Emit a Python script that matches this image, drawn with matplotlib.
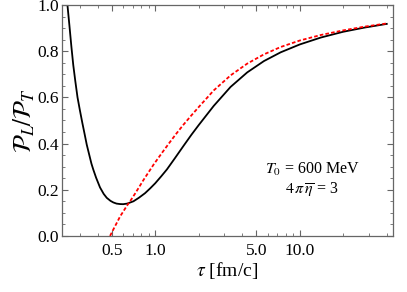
import numpy as np
import matplotlib
matplotlib.use('Agg')
import matplotlib.pyplot as plt
from matplotlib.ticker import FixedLocator, NullFormatter, FixedFormatter

plt.rcParams['font.family'] = ['Liberation Serif', 'DejaVu Serif']
plt.rcParams['mathtext.fontset'] = 'stix'

# ------------------------------------------------------------
# Data (tau in fm/c, ratio P_L/P_T)
# ------------------------------------------------------------
# black solid: full solution
tau_full = [0.247, 0.255, 0.263, 0.271, 0.28, 0.29, 0.301, 0.313, 0.325, 0.336,
            0.35, 0.362, 0.373, 0.39, 0.415, 0.44, 0.462, 0.49, 0.513, 0.54,
            0.571, 0.60, 0.64, 0.707, 0.77, 0.85, 0.923, 1.0, 1.1, 1.205,
            1.37, 1.57, 1.78, 2.0, 2.54, 3.32, 4.33, 5.65, 7.38, 10.0,
            14.0, 20.0, 28.0, 40.0]
ratio_full = [1.0, 0.91, 0.82, 0.74, 0.67, 0.60, 0.545, 0.49, 0.44, 0.395,
              0.35, 0.313, 0.287, 0.252, 0.210, 0.182, 0.165, 0.152, 0.145, 0.140,
              0.138, 0.1375, 0.140, 0.150, 0.165, 0.185, 0.206, 0.228, 0.258, 0.288,
              0.337, 0.390, 0.438, 0.480, 0.563, 0.645, 0.708, 0.757, 0.795, 0.829,
              0.859, 0.884, 0.902, 0.918]

# red dashed: approximation
tau_approx = [0.487, 0.52, 0.55, 0.571, 0.60, 0.636, 0.670, 0.72, 0.775, 0.829,
              0.90, 0.97, 1.03, 1.13, 1.27, 1.4, 1.57, 1.78, 2.0, 2.54,
              3.32, 4.33, 5.65, 7.38, 10.0, 14.0, 20.0, 28.0, 40.0]
ratio_approx = [0.0, 0.035, 0.064, 0.084, 0.105, 0.130, 0.150, 0.180, 0.212, 0.242,
                0.276, 0.307, 0.330, 0.365, 0.408, 0.443, 0.482, 0.522, 0.558, 0.630,
                0.695, 0.746, 0.786, 0.818, 0.846, 0.870, 0.890, 0.906, 0.920]

major_x = [0.5, 1.0, 5.0, 10.0]
major_x_labels = ['0.5', '1.0', '5.0', '10.0']
minor_x = [0.3, 0.4, 0.6, 0.7, 0.8, 0.9, 2, 3, 4, 6, 7, 8, 9, 20, 30, 40]

# ------------------------------------------------------------
# Plot
# ------------------------------------------------------------
fig = plt.figure(figsize=(4.07, 2.92), dpi=100)
ax = fig.add_axes([0.152, 0.192, 0.814, 0.791])

ax.plot(tau_full, ratio_full, color='black', lw=1.3)
ax.plot(tau_approx, ratio_approx, color='red', lw=1.3, dashes=(2.0, 1.2))

ax.set_xscale('log')
ax.set_xlim(0.226, 44.3)
ax.set_ylim(0.0, 1.0)

ax.xaxis.set_major_locator(FixedLocator(major_x))
ax.xaxis.set_major_formatter(FixedFormatter(major_x_labels))
ax.xaxis.set_minor_locator(FixedLocator(minor_x))
ax.xaxis.set_minor_formatter(NullFormatter())
ax.set_yticks([0.0, 0.2, 0.4, 0.6, 0.8, 1.0])
ax.set_yticklabels(['0.0', '0.2', '0.4', '0.6', '0.8', '1.0'])
ax.set_yticks(np.arange(0, 1.001, 0.05), minor=True)

for s in ax.spines.values():
    s.set_color('#666666')
    s.set_linewidth(0.9)
ax.tick_params(which='both', direction='in', top=True, right=True,
               color='#666666', labelsize=12.5, labelcolor='black')
ax.tick_params(which='major', length=4, width=0.8)
ax.tick_params(which='minor', length=2.2, width=0.6)
ax.tick_params(axis='x', pad=5)
ax.tick_params(axis='y', pad=2)

ax.set_xlabel(r'$\tau$ [fm/c]', fontsize=14, labelpad=1)
ax.set_ylabel(r'$\mathcal{P}_L/\mathcal{P}_T$', fontsize=18, labelpad=0)

ax.text(0.755, 0.29, r'$T_0$ = 600 MeV', transform=ax.transAxes,
        ha='center', va='center', fontsize=11.5)
ax.text(0.755, 0.20, r'$4\,\pi\,\overline{\eta}$ = 3', transform=ax.transAxes,
        ha='center', va='center', fontsize=11.5)

fig.savefig('out.png', dpi=100)
plt.close(fig)
